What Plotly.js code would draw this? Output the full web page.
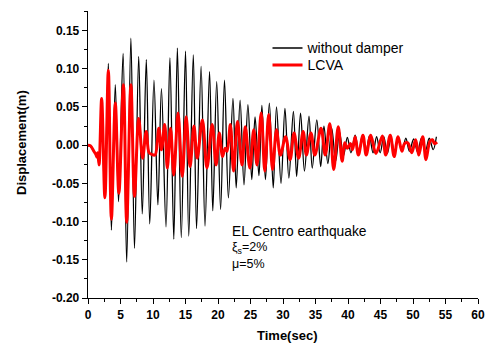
<!DOCTYPE html>
<html>
<head>
<meta charset="utf-8">
<script src="https://cdn.plot.ly/plotly-3.0.1.min.js"></script>
<style>html,body{margin:0;padding:0;background:#fff;}#chart{width:485px;height:347px;}</style>
</head>
<body>
<div id="chart"></div>
<script>
// Extrema (time in s, displacement in m)
const timeWithout = [0,0.4,0.9,1.2,1.4,1.5,1.7,2.1,2.55,3.13,3.6,4.2,4.7,5.4,5.95,6.6,7.15,7.8,8.35,8.97,9.5,10.15,10.75,11.3,12.0,12.6,13.2,13.75,14.35,15.0,15.5,16.2,16.7,17.4,18.0,18.7,19.2,19.8,20.4,21.0,21.6,22.3,22.8,23.4,24.0,24.6,25.2,25.7,26.3,26.75,27.3,27.9,28.5,29.0,29.7,30.3,30.9,31.6,32.1,32.7,33.3,34.0,34.5,35.2,35.8,36.3,36.9,37.5,38.1,38.7,39.3,39.9,40.45,41.1,41.65,42.2,42.75,43.3,43.85,44.4,44.95,45.5,46.05,46.6,47.15,47.7,48.3,48.9,49.45,50.1,50.7,51.3,51.9,52.5,53.1,53.6];
const dispWithout = [0,-0.002,-0.008,-0.012,-0.015,-0.010,-0.026,0.061,-0.070,0.107,-0.111,0.079,-0.074,0.120,-0.153,0.140,-0.135,0.116,-0.090,0.112,-0.103,0.085,-0.078,0.074,-0.107,0.114,-0.123,0.127,-0.121,0.123,-0.119,0.118,-0.109,0.103,-0.106,0.096,-0.086,0.083,-0.084,0.085,-0.069,0.061,-0.056,0.059,-0.052,0.053,-0.045,0.037,-0.040,0.052,-0.045,0.055,-0.056,0.050,-0.050,0.048,-0.043,0.044,-0.041,0.042,-0.034,0.038,-0.030,0.033,-0.028,0.025,-0.024,0.022,-0.021,0.017,-0.014,0.010,-0.010,0.013,-0.009,0.012,-0.010,0.012,-0.010,0.011,-0.010,0.011,-0.011,0.010,-0.010,0.009,-0.008,0.009,-0.008,0.008,-0.009,0.009,-0.008,0.009,-0.006,0.011];

const timeLCVA = [0,0.4,0.9,1.2,1.4,1.5,1.7,2.1,2.6,3.13,3.6,4.2,4.75,5.45,5.95,6.6,7.15,7.8,8.4,8.95,9.4,9.8,10.3,10.9,11.3,11.8,12.2,12.7,13.2,13.85,14.5,15.1,15.7,16.3,16.8,17.6,18.3,19.1,19.7,20.2,20.7,21.1,21.4,21.9,22.4,23.0,23.7,24.2,24.9,25.5,26.0,26.65,27.2,27.8,28.4,29.0,29.6,30.4,31.1,31.7,32.4,33.1,33.6,34.3,34.9,35.85,36.5,37.2,37.8,38.5,39.1,39.5,39.9,40.4,40.7,41.1,41.6,42.3,42.8,43.5,44.3,45.3,45.8,46.5,47.1,47.7,48.3,48.7,49.2,49.8,50.4,50.9,51.5,52.0,52.6,53.0,53.3,53.7];
const dispLCVA = [0,-0.001,-0.008,-0.012,-0.016,-0.010,-0.026,0.061,-0.069,0.098,-0.097,0.055,-0.063,0.079,-0.101,0.079,-0.067,0.035,-0.017,0.018,-0.010,-0.012,-0.013,0.022,-0.006,0.027,-0.030,0.022,-0.039,0.042,-0.041,0.037,-0.028,0.025,-0.017,0.033,-0.030,0.027,-0.026,0.016,-0.015,-0.004,-0.008,0.027,-0.034,0.031,-0.026,0.024,-0.030,0.020,-0.026,0.042,-0.034,0.040,-0.032,0.020,-0.013,0.011,-0.019,0.016,-0.017,0.018,-0.013,0.016,-0.013,0.022,-0.013,0.028,-0.032,0.024,-0.021,0.003,-0.004,0.002,-0.006,0.011,-0.013,0.013,-0.013,0.013,-0.011,0.012,-0.013,0.013,-0.015,0.011,-0.008,0.002,0.003,-0.010,0.007,-0.013,0.011,-0.019,0.005,0.007,0.002,0.004];

const xTicks = [0,5,10,15,20,25,30,35,40,45,50,55,60];
const yTicks = [-0.20,-0.15,-0.10,-0.05,0.00,0.05,0.10,0.15];
const seriesNames = ['without damper','LCVA'];

const F = 'Liberation Sans, Arial, sans-serif';

const traces = [
  {x: timeWithout, y: dispWithout, name: seriesNames[0], mode: 'lines', legend: 'legend',
   line: {color: '#000000', width: 1.3, shape: 'spline', smoothing: 1}},
  {x: timeLCVA, y: dispLCVA, name: seriesNames[1], mode: 'lines', legend: 'legend2',
   line: {color: '#ff0000', width: 3, shape: 'spline', smoothing: 1}}
];

const legX = (267.5 - 88) / 390;
const legendStyle = {xanchor: 'left', yanchor: 'top', bgcolor: 'rgba(0,0,0,0)',
  font: {family: F, size: 14, color: '#000'}};

const layout = {
  width: 485, height: 347,
  margin: {l: 88, r: 7, t: 11, b: 49},
  paper_bgcolor: '#fff', plot_bgcolor: '#fff',
  showlegend: true,
  legend: Object.assign({x: legX, y: (298 - 32.4) / 287}, legendStyle),
  legend2: Object.assign({x: legX, y: (298 - 49.4) / 287}, legendStyle),
  xaxis: {
    range: [0, 60], tickmode: 'array', tickvals: xTicks, ticktext: xTicks.map(String),
    showgrid: false, zeroline: false, showline: true, linecolor: '#000', linewidth: 1.3,
    ticks: 'outside', ticklen: 5, tickwidth: 1, tickcolor: '#000',
    minor: {dtick: 2.5, ticks: 'outside', ticklen: 3, tickcolor: '#000', showgrid: false},
    tickfont: {family: F, size: 12, color: '#000', weight: 'bold'},
    title: {text: ''}
  },
  yaxis: {
    range: [-0.2, 0.1755], tickmode: 'array', tickvals: yTicks, ticktext: yTicks.map(v => v.toFixed(2)),
    showgrid: false, zeroline: false, showline: true, linecolor: '#000', linewidth: 1.3,
    ticks: 'outside', ticklen: 5, tickwidth: 1, tickcolor: '#000',
    minor: {dtick: 0.025, tick0: 0, ticks: 'outside', ticklen: 3, tickcolor: '#000', showgrid: false},
    tickfont: {family: F, size: 12, color: '#000', weight: 'bold'},
    title: {text: ''}
  },
  annotations: [
    {xref: 'paper', yref: 'paper', x: (21 - 88) / 390, y: (298 - 143) / 287, xanchor: 'center', yanchor: 'middle',
     textangle: -90, text: 'Displacement(m)', showarrow: false,
     font: {family: F, size: 13, color: '#000', weight: 'bold'}},
    {xref: 'paper', yref: 'paper', x: (287 - 88) / 390, y: (298 - 335) / 287, xanchor: 'center', yanchor: 'middle',
     text: 'Time(sec)', showarrow: false,
     font: {family: F, size: 13, color: '#000', weight: 'bold'}},
    {xref: 'paper', yref: 'paper', x: (230 - 88) / 390, y: (298 - 231) / 287, xanchor: 'left', yanchor: 'middle',
     text: 'EL Centro earthquake', showarrow: false, font: {family: F, size: 13.8, color: '#000'}},
    {xref: 'paper', yref: 'paper', x: (230 - 88) / 390, y: (298 - 248) / 287, xanchor: 'left', yanchor: 'middle',
     text: 'ξ<sub>s</sub>=2%', showarrow: false, font: {family: F, size: 12.5, color: '#000'}},
    {xref: 'paper', yref: 'paper', x: (230 - 88) / 390, y: (298 - 264) / 287, xanchor: 'left', yanchor: 'middle',
     text: 'μ=5%', showarrow: false, font: {family: F, size: 12.5, color: '#000'}}
  ]
};

Plotly.newPlot('chart', traces, layout, {staticPlot: true, displayModeBar: false});
</script>
</body>
</html>
